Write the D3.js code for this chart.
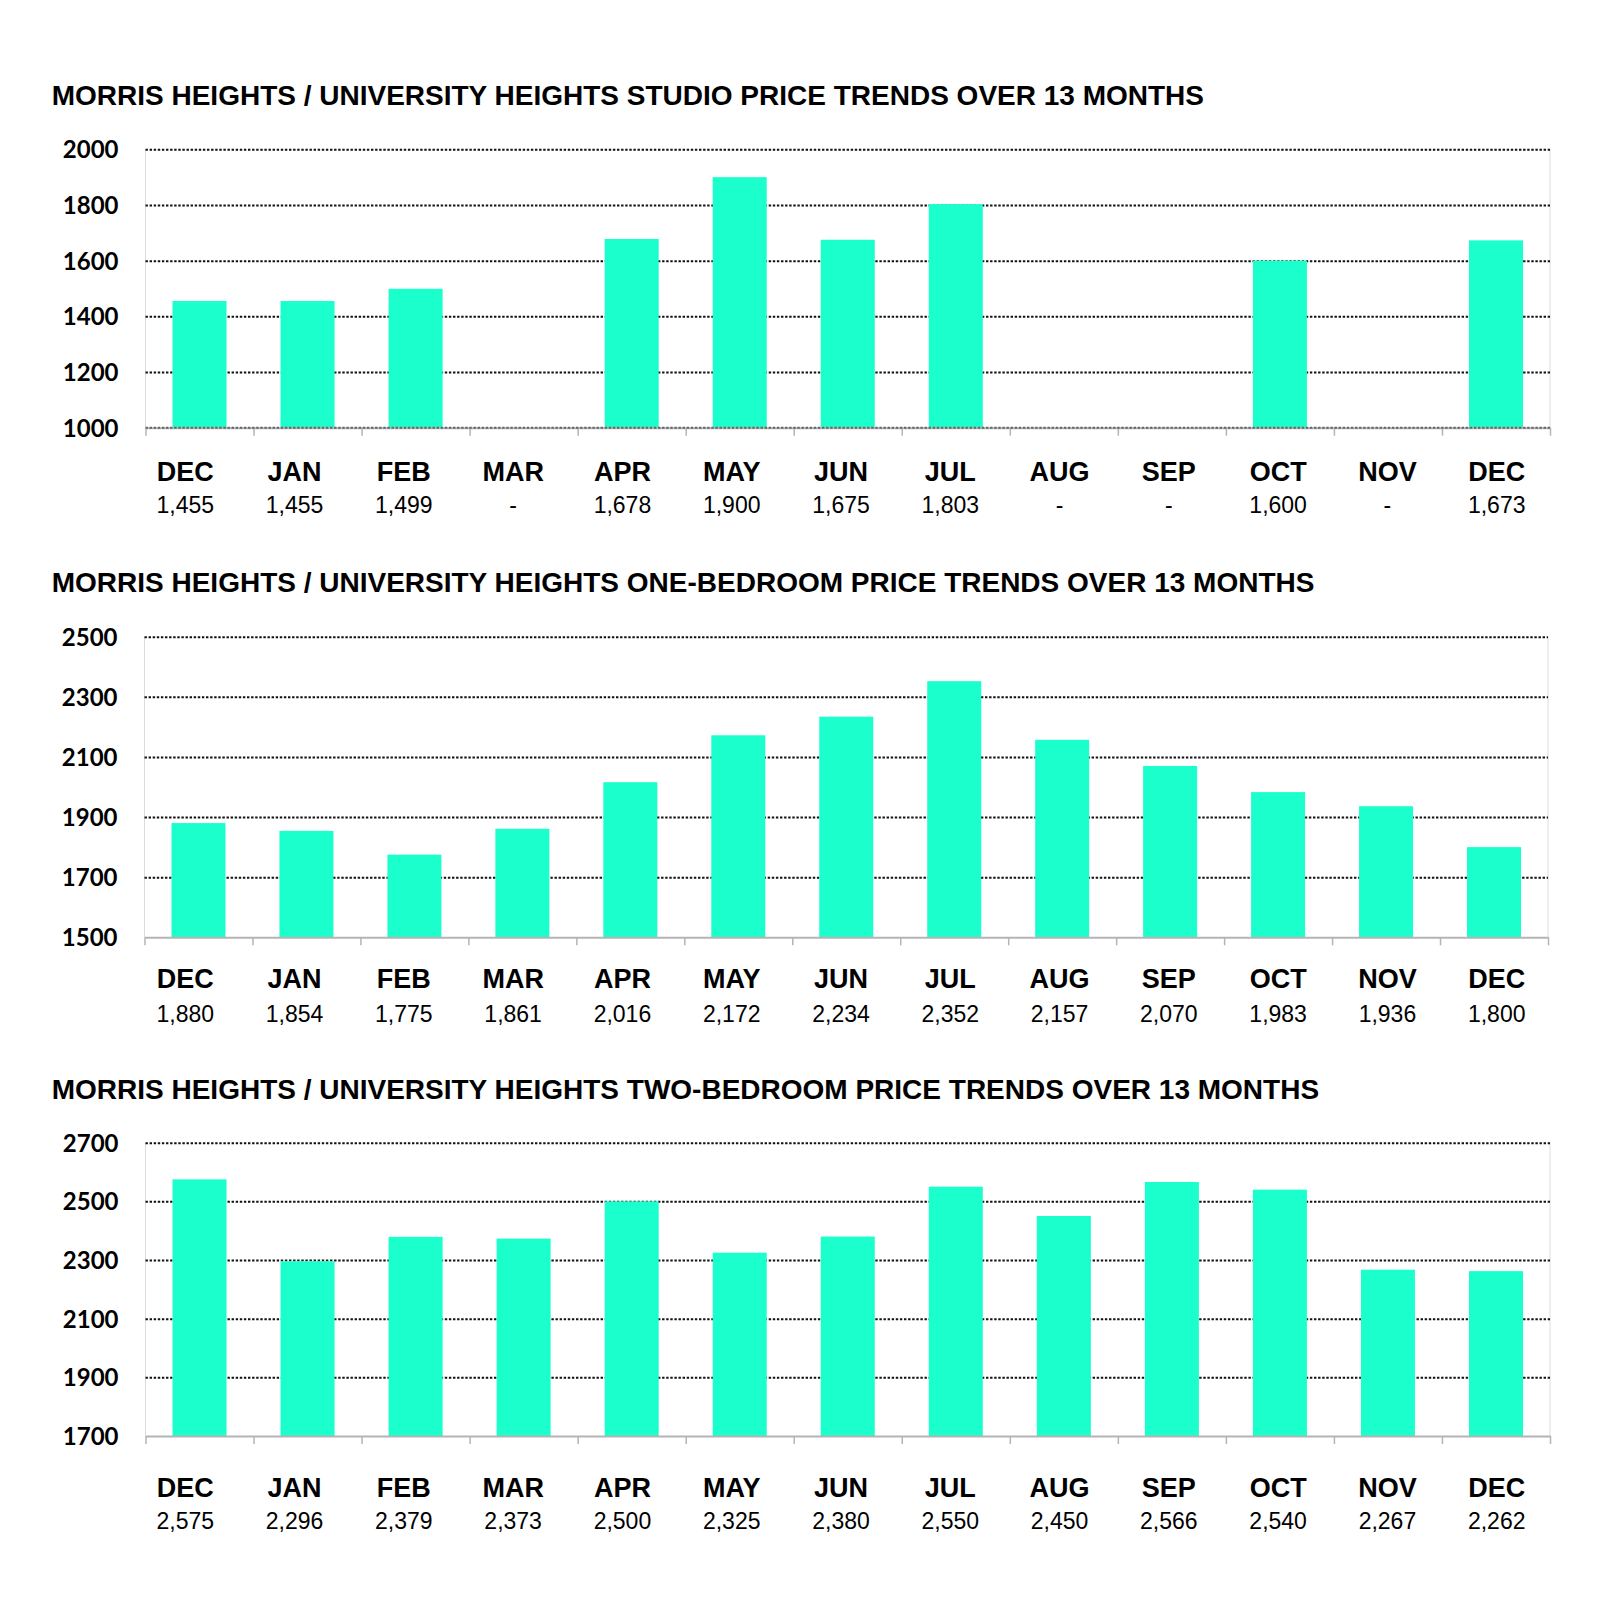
<!DOCTYPE html>
<html>
<head>
<meta charset="utf-8">
<script src="https://cdn.jsdelivr.net/npm/d3@7"></script>
<style>
  html, body { margin: 0; padding: 0; background: #ffffff; }
  svg { display: block; }
</style>
</head>
<body>
<svg id="chart" width="1600" height="1619"></svg>
<script>
// ---------- DATA ----------
const months = ["DEC", "JAN", "FEB", "MAR", "APR", "MAY", "JUN", "JUL", "AUG", "SEP", "OCT", "NOV", "DEC"];

const titles = [
  "MORRIS HEIGHTS / UNIVERSITY HEIGHTS STUDIO PRICE TRENDS OVER 13 MONTHS",
  "MORRIS HEIGHTS / UNIVERSITY HEIGHTS ONE-BEDROOM PRICE TRENDS OVER 13 MONTHS",
  "MORRIS HEIGHTS / UNIVERSITY HEIGHTS TWO-BEDROOM PRICE TRENDS OVER 13 MONTHS"
];

const studioValues  = [1455, 1455, 1499, null, 1678, 1900, 1675, 1803, null, null, 1600, null, 1673];
const oneBedValues  = [1880, 1854, 1775, 1861, 2016, 2172, 2234, 2352, 2157, 2070, 1983, 1936, 1800];
const twoBedValues  = [2575, 2296, 2379, 2373, 2500, 2325, 2380, 2550, 2450, 2566, 2540, 2267, 2262];

const studioTicks = [1000, 1200, 1400, 1600, 1800, 2000];
const oneBedTicks = [1500, 1700, 1900, 2100, 2300, 2500];
const twoBedTicks = [1700, 1900, 2100, 2300, 2500, 2700];

// ---------- LAYOUT / STYLE ----------
const BAR_COLOR = "#1affcc";
const DOTS = "2.4,1.7";
const charts = [
  { title: titles[0], values: studioValues, ticks: studioTicks,
    left: 145.5, right: 1550, top: 149.3, bottom: 427.7, titleY: 105, monthY: 480.7, valueY: 513, dottedBase: true },
  { title: titles[1], values: oneBedValues, ticks: oneBedTicks,
    left: 144.5, right: 1548, top: 636.7, bottom: 937.3, titleY: 591.7, monthY: 988.3, valueY: 1021.7, dottedBase: false },
  { title: titles[2], values: twoBedValues, ticks: twoBedTicks,
    left: 145.5, right: 1550, top: 1142.7, bottom: 1436, titleY: 1099.3, monthY: 1496.7, valueY: 1529.3, dottedBase: false }
];

const svg = d3.select("#chart");
const fmt = d3.format(",");

// label row positions (table beneath chart)
const labelX = d3.scalePoint().domain(d3.range(months.length)).range([185.3, 1496.7]);

charts.forEach(c => {
  const g = svg.append("g");

  const x = d3.scaleBand()
    .domain(d3.range(months.length))
    .range([c.left, c.right])
    .paddingInner(0.5)
    .paddingOuter(0.25);

  const xEdge = d3.scaleLinear().domain([0, months.length]).range([c.left, c.right]);

  const y = d3.scaleLinear()
    .domain(d3.extent(c.ticks))
    .range([c.bottom, c.top]);

  // Title
  g.append("text")
    .attr("x", 51.7)
    .attr("y", c.titleY)
    .attr("font-family", "'Liberation Sans', Arial, sans-serif")
    .attr("font-weight", "bold")
    .attr("font-size", 28)
    .attr("fill", "#000")
    .text(c.title);

  // plot area side borders
  [c.left, c.right].forEach(xx => {
    g.append("line")
      .attr("x1", xx).attr("x2", xx)
      .attr("y1", y(c.ticks[c.ticks.length - 1])).attr("y2", c.bottom)
      .attr("stroke", "#dcdcdc").attr("stroke-width", 1);
  });

  // Gridlines (dotted)
  const grid = g.append("g")
    .attr("transform", `translate(${c.left},0)`)
    .call(d3.axisLeft(y).tickValues(c.ticks.slice(1)).tickSize(-(c.right - c.left)).tickFormat(""));
  grid.select(".domain").remove();
  grid.selectAll(".tick line")
    .attr("stroke", "#111")
    .attr("stroke-width", 2)
    .attr("stroke-dasharray", DOTS);

  // Bars
  g.append("g").selectAll("rect")
    .data(c.values.map((v, i) => ({ v, i })).filter(d => d.v !== null))
    .join("rect")
    .attr("x", d => x(d.i))
    .attr("width", x.bandwidth())
    .attr("y", d => y(d.v))
    .attr("height", d => y.range()[0] - y(d.v))
    .attr("fill", BAR_COLOR);

  // Bottom axis with category-boundary ticks
  const xAxis = g.append("g")
    .attr("transform", `translate(0,${c.bottom})`)
    .call(d3.axisBottom(xEdge).tickValues(d3.range(months.length + 1)).tickSize(8).tickSizeOuter(0).tickFormat(""));
  xAxis.select(".domain")
    .attr("stroke", "#b4b4b4")
    .attr("stroke-width", 2);
  xAxis.selectAll(".tick line").attr("stroke", "#b4b4b4").attr("stroke-width", 1.5);

  if (c.dottedBase) {
    // dotted gridline over the baseline
    g.append("line")
      .attr("x1", c.left).attr("x2", c.right)
      .attr("y1", c.bottom).attr("y2", c.bottom)
      .attr("stroke", "#666").attr("stroke-width", 2)
      .attr("stroke-dasharray", DOTS);
  }

  // Y axis labels
  const yAxis = g.append("g")
    .attr("transform", `translate(${c.left},0)`)
    .call(d3.axisLeft(y).tickValues(c.ticks).tickSize(0).tickPadding(27).tickFormat(d3.format("d")));
  yAxis.select(".domain").remove();
  yAxis.selectAll("text")
    .attr("font-family", "Lato, 'Liberation Sans', Arial, sans-serif")
    .attr("font-weight", "bold")
    .attr("font-size", 24)
    .attr("fill", "#000")
    .attr("dy", "0.35em");

  // Month labels
  g.append("g").selectAll("text")
    .data(months.map((m, i) => ({ m, i })))
    .join("text")
    .attr("x", d => labelX(d.i))
    .attr("y", c.monthY)
    .attr("text-anchor", "middle")
    .attr("font-family", "'Liberation Sans', Arial, sans-serif")
    .attr("font-weight", "bold")
    .attr("font-size", 27)
    .attr("fill", "#000")
    .text(d => d.m);

  // Value labels
  g.append("g").selectAll("text")
    .data(c.values.map((v, i) => ({ v, i })))
    .join("text")
    .attr("x", d => labelX(d.i))
    .attr("y", c.valueY)
    .attr("text-anchor", "middle")
    .attr("font-family", "'Liberation Sans', Arial, sans-serif")
    .attr("font-size", 23)
    .attr("fill", "#000")
    .text(d => d.v === null ? "-" : fmt(d.v));
});
</script>
</body>
</html>
